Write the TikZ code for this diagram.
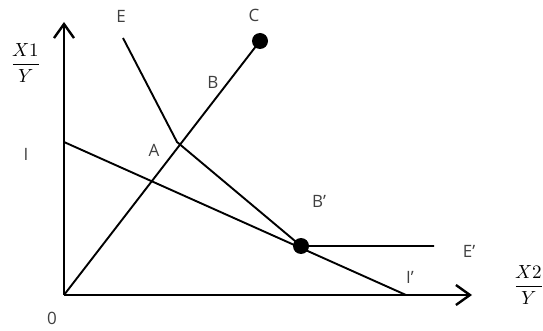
\documentclass[tikz,border=0pt]{standalone}
\usepackage{amsmath}
\usepackage{fontspec}
\usepackage{unicode-math}
\setmainfont{Open Sans}
\setmathfont{Latin Modern Math}
\usetikzlibrary{arrows.meta}
\usetikzlibrary{positioning}
\definecolor{fg}{rgb}{0,0,0}
\definecolor{lbl}{rgb}{0.25,0.25,0.25}
\tikzstyle{axis}=[-{Straight Barb[length=14pt,width=20pt,line width=2.4pt]}, line width=2.6pt, draw=fg]
\tikzstyle{curve}=[line width=1.9pt, draw=fg]
\tikzstyle{dot}=[circle, fill=fg, inner sep=0pt, minimum size=16pt]
\tikzstyle{lab}=[text=lbl, font=\fontsize{17}{20}\selectfont, inner sep=0pt]
\tikzstyle{fraclab}=[text=fg, font=\fontsize{19}{23}\selectfont, inner sep=0pt]

\begin{document}
\begin{tikzpicture}[x=1pt, y=-1pt]
    \useasboundingbox (0,0) rectangle (543,331);

    % axes
    \coordinate (O) at (64,295);
    \coordinate (ytop) at (64,22);
    \coordinate (xend) at (472,295);
    \draw[axis] (O) -- (ytop);
    \draw[axis] (O) -- (xend);

    % points
    \coordinate (I) at (64,142);
    \coordinate (Iq) at (406,295);
    \coordinate (E) at (123,38);
    \coordinate (K) at (177,142);
    \coordinate (Eq) at (434,246);
    \node[dot] (C) at (260,41) {};
    \node[dot] (Bq) at (301,246) {};

    % lines
    \draw[curve] (I) -- (Iq);
    \draw[curve] (O) -- (C.center);
    \draw[curve] (E) -- (K) -- (Bq.center) -- (Eq);

    % labels
    \node[lab] (labE) at (121,16) {E};
    \node[lab] (labC) at (254,15) {C};
    \node[lab] (labB) at (213,82) {B};
    \node[lab] (labA) at (154,150) {A};
    \node[lab] (labI) at (26,154) {I};
    \node[lab] (labBq) at (319,201) {B’};
    \node[lab] (labEq) at (469,251) {E’};
    \node[lab] (labIq) at (410,277) {I’};
    \node[lab] (lab0) at (52,318) {0};
    \node[fraclab] (fx1) at (26,63) {$\dfrac{X1}{Y}$};
    \node[fraclab] (fx2) at (529,285) {$\dfrac{X2}{Y}$};

\end{tikzpicture}
\end{document}
